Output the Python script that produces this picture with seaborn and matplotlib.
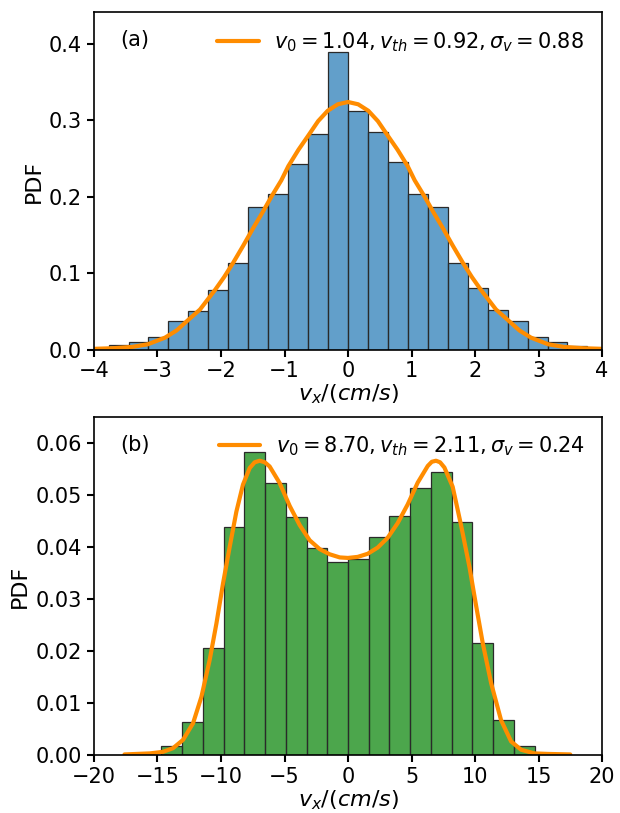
import matplotlib
matplotlib.use('Agg')
import matplotlib.pyplot as plt
import seaborn as sns
import numpy as np
import pandas as pd

# ---- panel (a): histogram bins and heights ----
edges_a = np.linspace(-3.77, 3.77, 25)
heights_a = [0.0057, 0.010, 0.0165, 0.037, 0.051, 0.078, 0.113, 0.187,
             0.203, 0.243, 0.282, 0.389, 0.312, 0.285, 0.245, 0.204,
             0.187, 0.113, 0.080, 0.052, 0.037, 0.017, 0.010, 0.005]

# fitted curve (a)
fit_x_a = [-4.0, -3.7, -3.4, -3.15, -2.88, -2.7, -2.54, -2.33, -2.09, -1.95,
           -1.81, -1.65, -1.5, -1.35, -1.2, -1.05, -0.94, -0.78, -0.63, -0.47,
           -0.32, -0.16, 0.0,
           0.16, 0.32, 0.47, 0.63, 0.78, 0.94, 1.05, 1.2, 1.35, 1.5, 1.65,
           1.81, 1.95, 2.09, 2.33, 2.54, 2.7, 2.88, 3.15, 3.4, 3.7, 4.0]
fit_y_a = [0.0010, 0.0018, 0.0035, 0.0070, 0.0157, 0.0250, 0.0370, 0.0525, 0.0785, 0.0950,
           0.1134, 0.1360, 0.1580, 0.1790, 0.2010, 0.2215, 0.2400, 0.2615, 0.2795, 0.2990,
           0.3125, 0.3210, 0.3240,
           0.3210, 0.3125, 0.2990, 0.2795, 0.2615, 0.2400, 0.2215, 0.2010, 0.1790, 0.1580, 0.1360,
           0.1134, 0.0950, 0.0785, 0.0525, 0.0370, 0.0250, 0.0157, 0.0070, 0.0035, 0.0018, 0.0010]
label_a = r'$v_0 = 1.04, v_{th} = 0.92, \sigma_v = 0.88$'

# ---- panel (b) ----
edges_b = np.linspace(-14.7, 14.7, 19)
heights_b = [0.0017, 0.0063, 0.0205, 0.0438, 0.0583, 0.0524, 0.0457, 0.0399, 0.0372,
             0.0376, 0.0419, 0.0460, 0.0514, 0.0544, 0.0449, 0.0216, 0.0067, 0.0017]

fit_x_b = [-17.6, -15.6, -14.57, -13.78, -12.99, -12.2, -11.54, -10.89, -10.36,
           -9.84, -9.31, -8.79, -8.27, -7.74, -7.35, -6.95, -6.55, -6.17, -5.38,
           -4.59, -3.8, -3.02, -2.23, -1.44, -0.65, 0.0, 0.76, 1.55, 2.34, 3.13,
           3.91, 4.7, 5.49, 6.28, 6.6, 6.93, 7.25, 7.59, 8.24, 8.9, 9.56, 10.08,
           10.61, 11.27, 12.05, 12.84, 13.63, 14.68, 15.7, 17.5]
fit_y_b = [0.0001, 0.0003, 0.0006, 0.0013, 0.0029, 0.0061, 0.0112, 0.0183, 0.0253,
           0.0330, 0.0401, 0.0468, 0.0520, 0.0552, 0.0563, 0.0566, 0.0563, 0.0555, 0.0523,
           0.0479, 0.0442, 0.0413, 0.0396, 0.0386, 0.0380, 0.0379, 0.0381, 0.0387, 0.0399, 0.0418,
           0.0446, 0.0482, 0.0524, 0.0556, 0.0564, 0.0566, 0.0563, 0.0553, 0.0516, 0.0442, 0.0362, 0.0288,
           0.0215, 0.0138, 0.0067, 0.0026, 0.0010, 0.0003, 0.0002, 0.0001]
label_b = r'$v_0 = 8.70, v_{th} = 2.11, \sigma_v = 0.24$'

sns.set_style("ticks")
plt.rcParams['font.family'] = ['DejaVu Sans']
plt.rcParams['mathtext.fontset'] = 'dejavusans'
for key in ['text.color', 'axes.labelcolor', 'xtick.color', 'ytick.color']:
    plt.rcParams[key] = 'black'

fig = plt.figure(figsize=(6.2, 8.13), dpi=100)
ax1 = fig.add_axes([0.1516, 0.570, 0.8194, 0.415])
ax2 = fig.add_axes([0.1516, 0.0714, 0.8194, 0.4156])

panels = [
    (ax1, edges_a, heights_a, fit_x_a, fit_y_a, label_a, 'tab:blue', '(a)',
     (-4, 4), (0, 0.4415), [0, 0.1, 0.2, 0.3, 0.4], '{:.1f}'),
    (ax2, edges_b, heights_b, fit_x_b, fit_y_b, label_b, 'green', '(b)',
     (-20, 20), (0, 0.065), [0, 0.01, 0.02, 0.03, 0.04, 0.05, 0.06], '{:.2f}'),
]

for ax, edges, heights, fx, fy, lab, col, tag, xlim, ylim, yt, fmt in panels:
    df = pd.DataFrame({'v': (edges[:-1] + edges[1:]) / 2, 'h': heights})
    sns.histplot(data=df, x='v', weights='h', bins=list(edges), stat='count',
                 color=col, alpha=0.7, edgecolor='#2a2a2a', linewidth=0.9, ax=ax)
    sns.lineplot(x=fx, y=fy, color='darkorange', linewidth=3, label=lab, ax=ax)
    ax.set_xlim(*xlim)
    ax.set_ylim(*ylim)
    ax.set_yticks(yt)
    ax.set_yticklabels([fmt.format(v) for v in yt])
    ax.set_xlabel(r'$v_x/(cm/s)$', fontsize=16, labelpad=1)
    ax.set_ylabel('PDF', fontsize=16)
    ax.tick_params(labelsize=15, width=1.5, length=5, direction='out', color='k')
    for s in ax.spines.values():
        s.set_linewidth(1.2)
        s.set_color('k')
    ax.text(0.051, 0.917, tag, transform=ax.transAxes, fontsize=15, va='center')
    ax.legend(loc='upper right', frameon=False, fontsize=15, handlelength=2.0,
              handletextpad=0.75, borderaxespad=0.45)

ax1.set_xticks([-4, -3, -2, -1, 0, 1, 2, 3, 4])
ax2.set_xticks([-20, -15, -10, -5, 0, 5, 10, 15, 20])

fig.savefig('out.png', dpi=100)
